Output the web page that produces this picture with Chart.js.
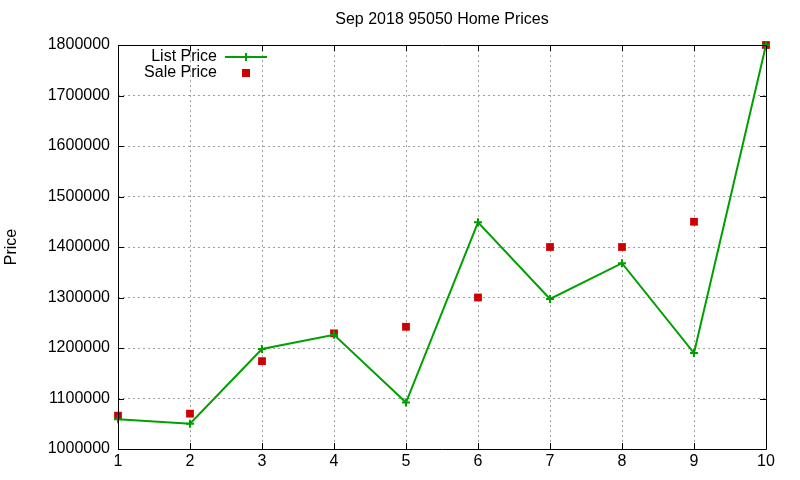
<!DOCTYPE html>
<html>
<head>
<meta charset="utf-8">
<script src="https://cdn.jsdelivr.net/npm/chart.js@4"></script>
<style>
html,body{margin:0;padding:0;background:#fff;}
#wrap{width:800px;height:480px;}
</style>
</head>
<body>
<div id="wrap"><canvas id="c" width="800" height="480"></canvas></div>
<script>
const categories = [1, 2, 3, 4, 5, 6, 7, 8, 9, 10];
const listPrice = [1059000, 1050000, 1198000, 1226000, 1092000, 1449000, 1297000, 1368000, 1190000, 1800000];
const salePrice = [1066000, 1070000, 1174000, 1229000, 1242000, 1300000, 1400000, 1400000, 1450000, 1800000];
const seriesNames = ['List Price', 'Sale Price'];
const yTicks = [1000000, 1100000, 1200000, 1300000, 1400000, 1500000, 1600000, 1700000, 1800000];
const chartTitle = 'Sep 2018 95050 Home Prices';
const yTitle = 'Price';

const FONT = 'Liberation Sans, Arial, sans-serif';
const GREEN = '#00a000';
const RED = '#cc0000';

const framePlugin = {
  id: 'frame',
  afterDatasetsDraw(chart) {
    const {ctx, chartArea: a, scales: {x, y}} = chart;
    ctx.save();
    ctx.strokeStyle = '#000';
    ctx.lineWidth = 1;
    ctx.setLineDash([]);
    ctx.beginPath();
    ctx.rect(Math.round(a.left) + 0.5, Math.round(a.top) + 0.5, Math.round(a.right - a.left), Math.round(a.bottom - a.top));
    ctx.stroke();
    const tl = 6;
    ctx.beginPath();
    yTicks.forEach(v => {
      const py = Math.round(y.getPixelForValue(v)) + 0.5;
      ctx.moveTo(a.left, py); ctx.lineTo(a.left + tl, py);
      ctx.moveTo(a.right, py); ctx.lineTo(a.right - tl, py);
    });
    categories.forEach(v => {
      const px = Math.round(x.getPixelForValue(v)) + 0.5;
      ctx.moveTo(px, a.bottom); ctx.lineTo(px, a.bottom - tl);
      ctx.moveTo(px, a.top); ctx.lineTo(px, a.top + tl);
    });
    ctx.stroke();
    ctx.restore();
  },
  afterDraw(chart) {
    const {ctx, chartArea: a} = chart;
    ctx.save();
    ctx.font = '16px ' + FONT;
    ctx.fillStyle = '#000';
    ctx.textAlign = 'center';
    ctx.textBaseline = 'middle';
    ctx.fillText(chartTitle, (a.left + a.right) / 2, 20);
    ctx.textAlign = 'right';
    const textRight = a.left + 99;
    const y1 = a.top + 12, y2 = a.top + 28;
    ctx.fillText(seriesNames[0], textRight, y1);
    ctx.fillText(seriesNames[1], textRight, y2);
    const sx1 = a.left + 107, sx2 = a.left + 149, sc = (sx1 + sx2) / 2;
    ctx.strokeStyle = GREEN;
    ctx.lineWidth = 2;
    ctx.beginPath();
    ctx.moveTo(sx1, y1); ctx.lineTo(sx2, y1);
    ctx.moveTo(sc, y1 - 4); ctx.lineTo(sc, y1 + 4);
    ctx.stroke();
    ctx.fillStyle = RED;
    ctx.fillRect(sc - 4, y2 - 4, 8, 8);
    ctx.restore();
  }
};

new Chart(document.getElementById('c'), {
  type: 'line',
  data: {
    datasets: [
      {
        label: seriesNames[0],
        data: categories.map((c, i) => ({x: c, y: listPrice[i]})),
        borderColor: GREEN,
        backgroundColor: GREEN,
        borderWidth: 2,
        pointStyle: 'cross',
        pointRadius: 4,
        pointBorderWidth: 2,
        pointHoverRadius: 4,
        tension: 0,
        fill: false,
        clip: false
      },
      {
        label: seriesNames[1],
        data: categories.map((c, i) => ({x: c, y: salePrice[i]})),
        showLine: false,
        borderColor: RED,
        backgroundColor: RED,
        pointStyle: 'rect',
        pointRadius: 5.5,
        pointBorderWidth: 0,
        pointHoverRadius: 5.5,
        clip: false
      }
    ]
  },
  options: {
    responsive: false,
    animation: false,
    devicePixelRatio: 1,
    layout: {padding: {left: 0, right: 34, top: 45, bottom: 0}},
    plugins: {
      legend: {display: false},
      tooltip: {enabled: false},
      title: {display: false}
    },
    scales: {
      x: {
        type: 'linear',
        min: 1, max: 10,
        afterFit(s) { s.height = 31; },
        afterBuildTicks(s) { s.ticks = categories.map(v => ({value: v})); },
        ticks: {color: '#000', font: {family: FONT, size: 16}, padding: 3, maxRotation: 0},
        grid: {color: '#a0a0a0', lineWidth: 1, drawTicks: false},
        border: {display: false, dash: [2, 3]}
      },
      y: {
        type: 'linear',
        min: 1000000, max: 1800000,
        afterFit(s) { s.width = 118; },
        afterBuildTicks(s) { s.ticks = yTicks.map(v => ({value: v})); },
        ticks: {color: '#000', font: {family: FONT, size: 16}, padding: 8, callback: v => String(v)},
        grid: {color: '#a0a0a0', lineWidth: 1, drawTicks: false},
        border: {display: false, dash: [2, 3]},
        title: {display: true, text: yTitle, color: '#000', font: {family: FONT, size: 16}, padding: {top: 2, bottom: 0}}
      }
    }
  },
  plugins: [framePlugin]
});
</script>
</body>
</html>
